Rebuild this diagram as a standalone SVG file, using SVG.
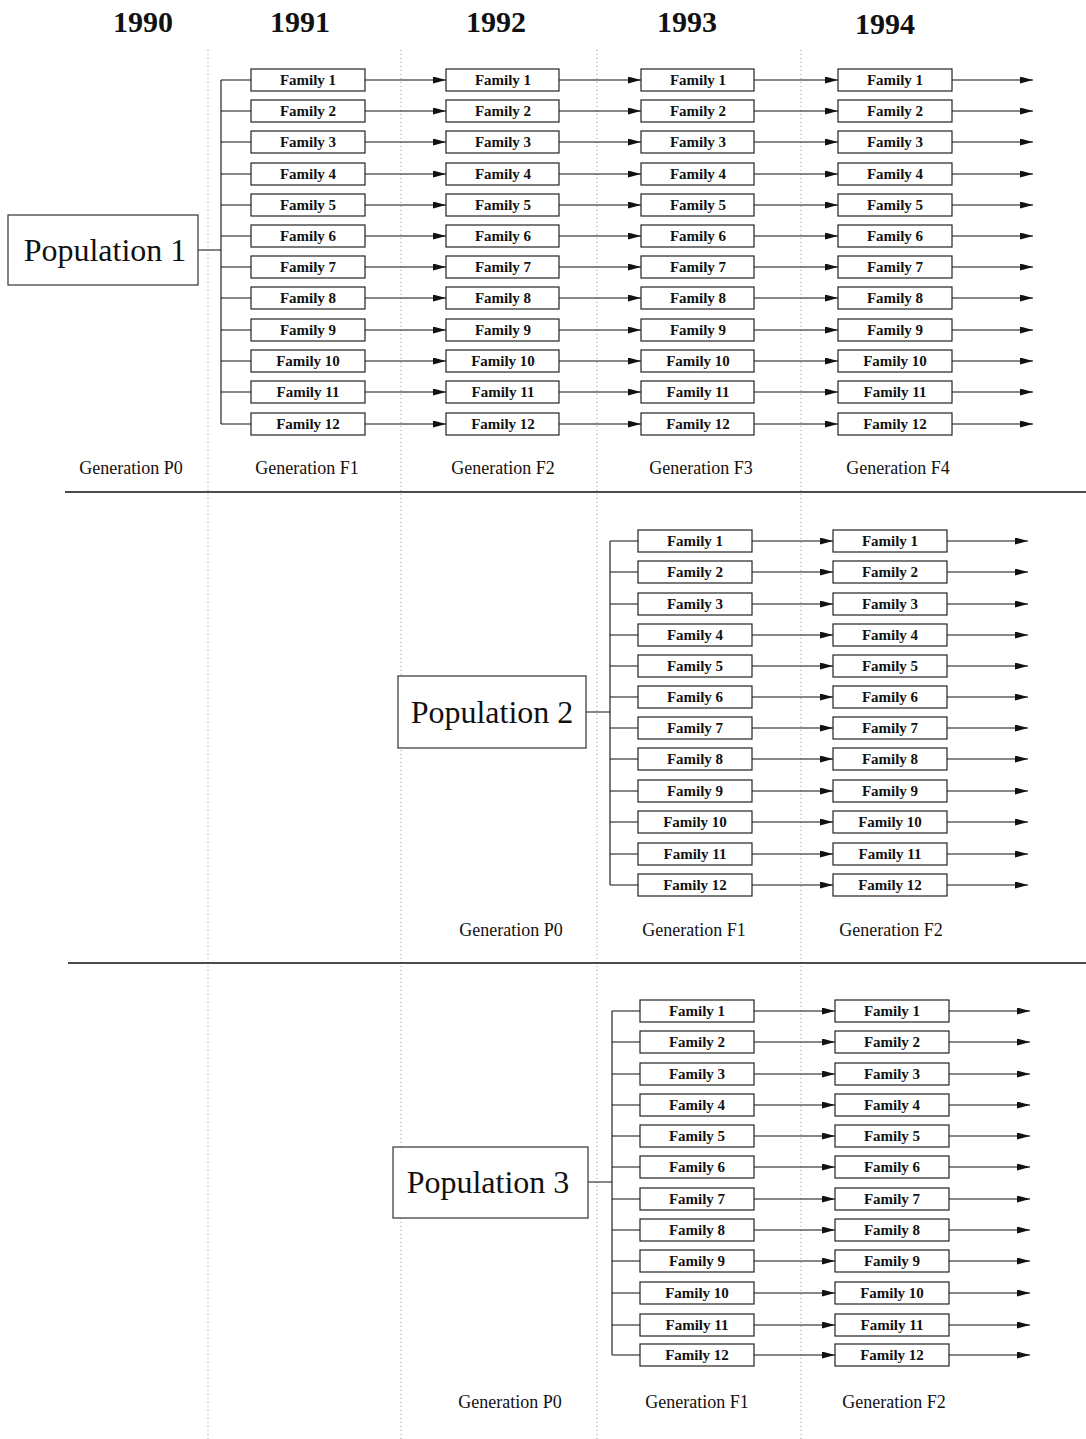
<svg xmlns="http://www.w3.org/2000/svg" width="1086" height="1439" viewBox="0 0 1086 1439">
<defs>
<marker id="ah" markerUnits="userSpaceOnUse" markerWidth="14" markerHeight="8" refX="13" refY="3.5" orient="auto"><path d="M0,0 L13,3.5 L0,7 z" fill="#111"/></marker>
<style>
.yr{font-family:"Liberation Serif",serif;font-weight:bold;font-size:30px;fill:#111;text-anchor:middle}
.gen{font-family:"Liberation Serif",serif;font-size:18px;fill:#111;text-anchor:middle}
.pop{font-family:"Liberation Serif",serif;font-size:32px;fill:#111;text-anchor:middle}
.node rect{fill:#fff;stroke:#222;stroke-width:1.2}
.node text{font-family:"Liberation Serif",serif;font-weight:bold;font-size:15px;fill:#111;text-anchor:middle}
.pbox rect{fill:#fff;stroke:#333;stroke-width:1.2}
.dot{stroke:#999;stroke-width:1;stroke-dasharray:1 3;fill:none}
.sep{stroke:#111;stroke-width:1.5}
.conn path{stroke:#111;stroke-width:1.1;fill:none}
.conn path.a{marker-end:url(#ah)}
</style>
</defs>
<rect width="1086" height="1439" fill="#fff"/>
<g id="guides">
<path class="dot" d="M208 50V1439M401 50V1439M597 50V1439M801 50V1439"/>
<path class="sep" d="M65 492H1086M68 963H1086"/>
</g>
<g id="years">
<text class="yr" x="143" y="32">1990</text>
<text class="yr" x="300" y="32">1991</text>
<text class="yr" x="496" y="32">1992</text>
<text class="yr" x="687" y="32">1993</text>
<text class="yr" x="885" y="34">1994</text>
</g>
<g id="gen-labels">
<text class="gen" x="131" y="474">Generation P0</text>
<text class="gen" x="307" y="474">Generation F1</text>
<text class="gen" x="503" y="474">Generation F2</text>
<text class="gen" x="701" y="474">Generation F3</text>
<text class="gen" x="898" y="474">Generation F4</text>
<text class="gen" x="511" y="936">Generation P0</text>
<text class="gen" x="694" y="936">Generation F1</text>
<text class="gen" x="891" y="936">Generation F2</text>
<text class="gen" x="510" y="1408">Generation P0</text>
<text class="gen" x="697" y="1408">Generation F1</text>
<text class="gen" x="894" y="1408">Generation F2</text>
</g>
<g id="connectors" class="conn">
<path d="M198 250H221M221 80V424M221 80H251M221 111H251M221 142H251M221 174H251M221 205H251M221 236H251M221 267H251M221 298H251M221 330H251M221 361H251M221 392H251M221 424H251"/>
<path class="a" d="M365 80H446"/><path class="a" d="M559 80H641"/><path class="a" d="M754 80H838"/><path class="a" d="M952 80H1033"/>
<path class="a" d="M365 111H446"/><path class="a" d="M559 111H641"/><path class="a" d="M754 111H838"/><path class="a" d="M952 111H1033"/>
<path class="a" d="M365 142H446"/><path class="a" d="M559 142H641"/><path class="a" d="M754 142H838"/><path class="a" d="M952 142H1033"/>
<path class="a" d="M365 174H446"/><path class="a" d="M559 174H641"/><path class="a" d="M754 174H838"/><path class="a" d="M952 174H1033"/>
<path class="a" d="M365 205H446"/><path class="a" d="M559 205H641"/><path class="a" d="M754 205H838"/><path class="a" d="M952 205H1033"/>
<path class="a" d="M365 236H446"/><path class="a" d="M559 236H641"/><path class="a" d="M754 236H838"/><path class="a" d="M952 236H1033"/>
<path class="a" d="M365 267H446"/><path class="a" d="M559 267H641"/><path class="a" d="M754 267H838"/><path class="a" d="M952 267H1033"/>
<path class="a" d="M365 298H446"/><path class="a" d="M559 298H641"/><path class="a" d="M754 298H838"/><path class="a" d="M952 298H1033"/>
<path class="a" d="M365 330H446"/><path class="a" d="M559 330H641"/><path class="a" d="M754 330H838"/><path class="a" d="M952 330H1033"/>
<path class="a" d="M365 361H446"/><path class="a" d="M559 361H641"/><path class="a" d="M754 361H838"/><path class="a" d="M952 361H1033"/>
<path class="a" d="M365 392H446"/><path class="a" d="M559 392H641"/><path class="a" d="M754 392H838"/><path class="a" d="M952 392H1033"/>
<path class="a" d="M365 424H446"/><path class="a" d="M559 424H641"/><path class="a" d="M754 424H838"/><path class="a" d="M952 424H1033"/>
<path d="M586 712H610M610 541V885M610 541H638M610 572H638M610 604H638M610 635H638M610 666H638M610 697H638M610 728H638M610 759H638M610 791H638M610 822H638M610 854H638M610 885H638"/>
<path class="a" d="M752 541H833"/><path class="a" d="M947 541H1028"/>
<path class="a" d="M752 572H833"/><path class="a" d="M947 572H1028"/>
<path class="a" d="M752 604H833"/><path class="a" d="M947 604H1028"/>
<path class="a" d="M752 635H833"/><path class="a" d="M947 635H1028"/>
<path class="a" d="M752 666H833"/><path class="a" d="M947 666H1028"/>
<path class="a" d="M752 697H833"/><path class="a" d="M947 697H1028"/>
<path class="a" d="M752 728H833"/><path class="a" d="M947 728H1028"/>
<path class="a" d="M752 759H833"/><path class="a" d="M947 759H1028"/>
<path class="a" d="M752 791H833"/><path class="a" d="M947 791H1028"/>
<path class="a" d="M752 822H833"/><path class="a" d="M947 822H1028"/>
<path class="a" d="M752 854H833"/><path class="a" d="M947 854H1028"/>
<path class="a" d="M752 885H833"/><path class="a" d="M947 885H1028"/>
<path d="M588 1182H612M612 1011V1355M612 1011H640M612 1042H640M612 1074H640M612 1105H640M612 1136H640M612 1167H640M612 1199H640M612 1230H640M612 1261H640M612 1293H640M612 1325H640M612 1355H640"/>
<path class="a" d="M754 1011H835"/><path class="a" d="M949 1011H1030"/>
<path class="a" d="M754 1042H835"/><path class="a" d="M949 1042H1030"/>
<path class="a" d="M754 1074H835"/><path class="a" d="M949 1074H1030"/>
<path class="a" d="M754 1105H835"/><path class="a" d="M949 1105H1030"/>
<path class="a" d="M754 1136H835"/><path class="a" d="M949 1136H1030"/>
<path class="a" d="M754 1167H835"/><path class="a" d="M949 1167H1030"/>
<path class="a" d="M754 1199H835"/><path class="a" d="M949 1199H1030"/>
<path class="a" d="M754 1230H835"/><path class="a" d="M949 1230H1030"/>
<path class="a" d="M754 1261H835"/><path class="a" d="M949 1261H1030"/>
<path class="a" d="M754 1293H835"/><path class="a" d="M949 1293H1030"/>
<path class="a" d="M754 1325H835"/><path class="a" d="M949 1325H1030"/>
<path class="a" d="M754 1355H835"/><path class="a" d="M949 1355H1030"/>
</g>
<g id="population-1" class="pbox"><rect x="8" y="215" width="190" height="70"/><text class="pop" x="105" y="261">Population 1</text></g>
<g id="population-2" class="pbox"><rect x="398" y="676" width="188" height="72"/><text class="pop" x="492" y="723">Population 2</text></g>
<g id="population-3" class="pbox"><rect x="393" y="1147" width="195" height="71"/><text class="pop" x="488" y="1193">Population 3</text></g>
<g id="pop1-families">
<g id="p1-f1-1991" class="node"><rect x="251" y="69" width="114" height="22"/><text x="308" y="85">Family 1</text></g>
<g id="p1-f2-1991" class="node"><rect x="251" y="100" width="114" height="22"/><text x="308" y="116">Family 2</text></g>
<g id="p1-f3-1991" class="node"><rect x="251" y="131" width="114" height="22"/><text x="308" y="147">Family 3</text></g>
<g id="p1-f4-1991" class="node"><rect x="251" y="163" width="114" height="22"/><text x="308" y="179">Family 4</text></g>
<g id="p1-f5-1991" class="node"><rect x="251" y="194" width="114" height="22"/><text x="308" y="210">Family 5</text></g>
<g id="p1-f6-1991" class="node"><rect x="251" y="225" width="114" height="22"/><text x="308" y="241">Family 6</text></g>
<g id="p1-f7-1991" class="node"><rect x="251" y="256" width="114" height="22"/><text x="308" y="272">Family 7</text></g>
<g id="p1-f8-1991" class="node"><rect x="251" y="287" width="114" height="22"/><text x="308" y="303">Family 8</text></g>
<g id="p1-f9-1991" class="node"><rect x="251" y="319" width="114" height="22"/><text x="308" y="335">Family 9</text></g>
<g id="p1-f10-1991" class="node"><rect x="251" y="350" width="114" height="22"/><text x="308" y="366">Family 10</text></g>
<g id="p1-f11-1991" class="node"><rect x="251" y="381" width="114" height="22"/><text x="308" y="397">Family 11</text></g>
<g id="p1-f12-1991" class="node"><rect x="251" y="413" width="114" height="22"/><text x="308" y="429">Family 12</text></g>
<g id="p1-f1-1992" class="node"><rect x="446" y="69" width="113" height="22"/><text x="503" y="85">Family 1</text></g>
<g id="p1-f2-1992" class="node"><rect x="446" y="100" width="113" height="22"/><text x="503" y="116">Family 2</text></g>
<g id="p1-f3-1992" class="node"><rect x="446" y="131" width="113" height="22"/><text x="503" y="147">Family 3</text></g>
<g id="p1-f4-1992" class="node"><rect x="446" y="163" width="113" height="22"/><text x="503" y="179">Family 4</text></g>
<g id="p1-f5-1992" class="node"><rect x="446" y="194" width="113" height="22"/><text x="503" y="210">Family 5</text></g>
<g id="p1-f6-1992" class="node"><rect x="446" y="225" width="113" height="22"/><text x="503" y="241">Family 6</text></g>
<g id="p1-f7-1992" class="node"><rect x="446" y="256" width="113" height="22"/><text x="503" y="272">Family 7</text></g>
<g id="p1-f8-1992" class="node"><rect x="446" y="287" width="113" height="22"/><text x="503" y="303">Family 8</text></g>
<g id="p1-f9-1992" class="node"><rect x="446" y="319" width="113" height="22"/><text x="503" y="335">Family 9</text></g>
<g id="p1-f10-1992" class="node"><rect x="446" y="350" width="113" height="22"/><text x="503" y="366">Family 10</text></g>
<g id="p1-f11-1992" class="node"><rect x="446" y="381" width="113" height="22"/><text x="503" y="397">Family 11</text></g>
<g id="p1-f12-1992" class="node"><rect x="446" y="413" width="113" height="22"/><text x="503" y="429">Family 12</text></g>
<g id="p1-f1-1993" class="node"><rect x="641" y="69" width="113" height="22"/><text x="698" y="85">Family 1</text></g>
<g id="p1-f2-1993" class="node"><rect x="641" y="100" width="113" height="22"/><text x="698" y="116">Family 2</text></g>
<g id="p1-f3-1993" class="node"><rect x="641" y="131" width="113" height="22"/><text x="698" y="147">Family 3</text></g>
<g id="p1-f4-1993" class="node"><rect x="641" y="163" width="113" height="22"/><text x="698" y="179">Family 4</text></g>
<g id="p1-f5-1993" class="node"><rect x="641" y="194" width="113" height="22"/><text x="698" y="210">Family 5</text></g>
<g id="p1-f6-1993" class="node"><rect x="641" y="225" width="113" height="22"/><text x="698" y="241">Family 6</text></g>
<g id="p1-f7-1993" class="node"><rect x="641" y="256" width="113" height="22"/><text x="698" y="272">Family 7</text></g>
<g id="p1-f8-1993" class="node"><rect x="641" y="287" width="113" height="22"/><text x="698" y="303">Family 8</text></g>
<g id="p1-f9-1993" class="node"><rect x="641" y="319" width="113" height="22"/><text x="698" y="335">Family 9</text></g>
<g id="p1-f10-1993" class="node"><rect x="641" y="350" width="113" height="22"/><text x="698" y="366">Family 10</text></g>
<g id="p1-f11-1993" class="node"><rect x="641" y="381" width="113" height="22"/><text x="698" y="397">Family 11</text></g>
<g id="p1-f12-1993" class="node"><rect x="641" y="413" width="113" height="22"/><text x="698" y="429">Family 12</text></g>
<g id="p1-f1-1994" class="node"><rect x="838" y="69" width="114" height="22"/><text x="895" y="85">Family 1</text></g>
<g id="p1-f2-1994" class="node"><rect x="838" y="100" width="114" height="22"/><text x="895" y="116">Family 2</text></g>
<g id="p1-f3-1994" class="node"><rect x="838" y="131" width="114" height="22"/><text x="895" y="147">Family 3</text></g>
<g id="p1-f4-1994" class="node"><rect x="838" y="163" width="114" height="22"/><text x="895" y="179">Family 4</text></g>
<g id="p1-f5-1994" class="node"><rect x="838" y="194" width="114" height="22"/><text x="895" y="210">Family 5</text></g>
<g id="p1-f6-1994" class="node"><rect x="838" y="225" width="114" height="22"/><text x="895" y="241">Family 6</text></g>
<g id="p1-f7-1994" class="node"><rect x="838" y="256" width="114" height="22"/><text x="895" y="272">Family 7</text></g>
<g id="p1-f8-1994" class="node"><rect x="838" y="287" width="114" height="22"/><text x="895" y="303">Family 8</text></g>
<g id="p1-f9-1994" class="node"><rect x="838" y="319" width="114" height="22"/><text x="895" y="335">Family 9</text></g>
<g id="p1-f10-1994" class="node"><rect x="838" y="350" width="114" height="22"/><text x="895" y="366">Family 10</text></g>
<g id="p1-f11-1994" class="node"><rect x="838" y="381" width="114" height="22"/><text x="895" y="397">Family 11</text></g>
<g id="p1-f12-1994" class="node"><rect x="838" y="413" width="114" height="22"/><text x="895" y="429">Family 12</text></g>
</g>
<g id="pop2-families">
<g id="p2-f1-1993" class="node"><rect x="638" y="530" width="114" height="22"/><text x="695" y="546">Family 1</text></g>
<g id="p2-f2-1993" class="node"><rect x="638" y="561" width="114" height="22"/><text x="695" y="577">Family 2</text></g>
<g id="p2-f3-1993" class="node"><rect x="638" y="593" width="114" height="22"/><text x="695" y="609">Family 3</text></g>
<g id="p2-f4-1993" class="node"><rect x="638" y="624" width="114" height="22"/><text x="695" y="640">Family 4</text></g>
<g id="p2-f5-1993" class="node"><rect x="638" y="655" width="114" height="22"/><text x="695" y="671">Family 5</text></g>
<g id="p2-f6-1993" class="node"><rect x="638" y="686" width="114" height="22"/><text x="695" y="702">Family 6</text></g>
<g id="p2-f7-1993" class="node"><rect x="638" y="717" width="114" height="22"/><text x="695" y="733">Family 7</text></g>
<g id="p2-f8-1993" class="node"><rect x="638" y="748" width="114" height="22"/><text x="695" y="764">Family 8</text></g>
<g id="p2-f9-1993" class="node"><rect x="638" y="780" width="114" height="22"/><text x="695" y="796">Family 9</text></g>
<g id="p2-f10-1993" class="node"><rect x="638" y="811" width="114" height="22"/><text x="695" y="827">Family 10</text></g>
<g id="p2-f11-1993" class="node"><rect x="638" y="843" width="114" height="22"/><text x="695" y="859">Family 11</text></g>
<g id="p2-f12-1993" class="node"><rect x="638" y="874" width="114" height="22"/><text x="695" y="890">Family 12</text></g>
<g id="p2-f1-1994" class="node"><rect x="833" y="530" width="114" height="22"/><text x="890" y="546">Family 1</text></g>
<g id="p2-f2-1994" class="node"><rect x="833" y="561" width="114" height="22"/><text x="890" y="577">Family 2</text></g>
<g id="p2-f3-1994" class="node"><rect x="833" y="593" width="114" height="22"/><text x="890" y="609">Family 3</text></g>
<g id="p2-f4-1994" class="node"><rect x="833" y="624" width="114" height="22"/><text x="890" y="640">Family 4</text></g>
<g id="p2-f5-1994" class="node"><rect x="833" y="655" width="114" height="22"/><text x="890" y="671">Family 5</text></g>
<g id="p2-f6-1994" class="node"><rect x="833" y="686" width="114" height="22"/><text x="890" y="702">Family 6</text></g>
<g id="p2-f7-1994" class="node"><rect x="833" y="717" width="114" height="22"/><text x="890" y="733">Family 7</text></g>
<g id="p2-f8-1994" class="node"><rect x="833" y="748" width="114" height="22"/><text x="890" y="764">Family 8</text></g>
<g id="p2-f9-1994" class="node"><rect x="833" y="780" width="114" height="22"/><text x="890" y="796">Family 9</text></g>
<g id="p2-f10-1994" class="node"><rect x="833" y="811" width="114" height="22"/><text x="890" y="827">Family 10</text></g>
<g id="p2-f11-1994" class="node"><rect x="833" y="843" width="114" height="22"/><text x="890" y="859">Family 11</text></g>
<g id="p2-f12-1994" class="node"><rect x="833" y="874" width="114" height="22"/><text x="890" y="890">Family 12</text></g>
</g>
<g id="pop3-families">
<g id="p3-f1-1993" class="node"><rect x="640" y="1000" width="114" height="22"/><text x="697" y="1016">Family 1</text></g>
<g id="p3-f2-1993" class="node"><rect x="640" y="1031" width="114" height="22"/><text x="697" y="1047">Family 2</text></g>
<g id="p3-f3-1993" class="node"><rect x="640" y="1063" width="114" height="22"/><text x="697" y="1079">Family 3</text></g>
<g id="p3-f4-1993" class="node"><rect x="640" y="1094" width="114" height="22"/><text x="697" y="1110">Family 4</text></g>
<g id="p3-f5-1993" class="node"><rect x="640" y="1125" width="114" height="22"/><text x="697" y="1141">Family 5</text></g>
<g id="p3-f6-1993" class="node"><rect x="640" y="1156" width="114" height="22"/><text x="697" y="1172">Family 6</text></g>
<g id="p3-f7-1993" class="node"><rect x="640" y="1188" width="114" height="22"/><text x="697" y="1204">Family 7</text></g>
<g id="p3-f8-1993" class="node"><rect x="640" y="1219" width="114" height="22"/><text x="697" y="1235">Family 8</text></g>
<g id="p3-f9-1993" class="node"><rect x="640" y="1250" width="114" height="22"/><text x="697" y="1266">Family 9</text></g>
<g id="p3-f10-1993" class="node"><rect x="640" y="1282" width="114" height="22"/><text x="697" y="1298">Family 10</text></g>
<g id="p3-f11-1993" class="node"><rect x="640" y="1314" width="114" height="22"/><text x="697" y="1330">Family 11</text></g>
<g id="p3-f12-1993" class="node"><rect x="640" y="1344" width="114" height="22"/><text x="697" y="1360">Family 12</text></g>
<g id="p3-f1-1994" class="node"><rect x="835" y="1000" width="114" height="22"/><text x="892" y="1016">Family 1</text></g>
<g id="p3-f2-1994" class="node"><rect x="835" y="1031" width="114" height="22"/><text x="892" y="1047">Family 2</text></g>
<g id="p3-f3-1994" class="node"><rect x="835" y="1063" width="114" height="22"/><text x="892" y="1079">Family 3</text></g>
<g id="p3-f4-1994" class="node"><rect x="835" y="1094" width="114" height="22"/><text x="892" y="1110">Family 4</text></g>
<g id="p3-f5-1994" class="node"><rect x="835" y="1125" width="114" height="22"/><text x="892" y="1141">Family 5</text></g>
<g id="p3-f6-1994" class="node"><rect x="835" y="1156" width="114" height="22"/><text x="892" y="1172">Family 6</text></g>
<g id="p3-f7-1994" class="node"><rect x="835" y="1188" width="114" height="22"/><text x="892" y="1204">Family 7</text></g>
<g id="p3-f8-1994" class="node"><rect x="835" y="1219" width="114" height="22"/><text x="892" y="1235">Family 8</text></g>
<g id="p3-f9-1994" class="node"><rect x="835" y="1250" width="114" height="22"/><text x="892" y="1266">Family 9</text></g>
<g id="p3-f10-1994" class="node"><rect x="835" y="1282" width="114" height="22"/><text x="892" y="1298">Family 10</text></g>
<g id="p3-f11-1994" class="node"><rect x="835" y="1314" width="114" height="22"/><text x="892" y="1330">Family 11</text></g>
<g id="p3-f12-1994" class="node"><rect x="835" y="1344" width="114" height="22"/><text x="892" y="1360">Family 12</text></g>
</g>
</svg>
